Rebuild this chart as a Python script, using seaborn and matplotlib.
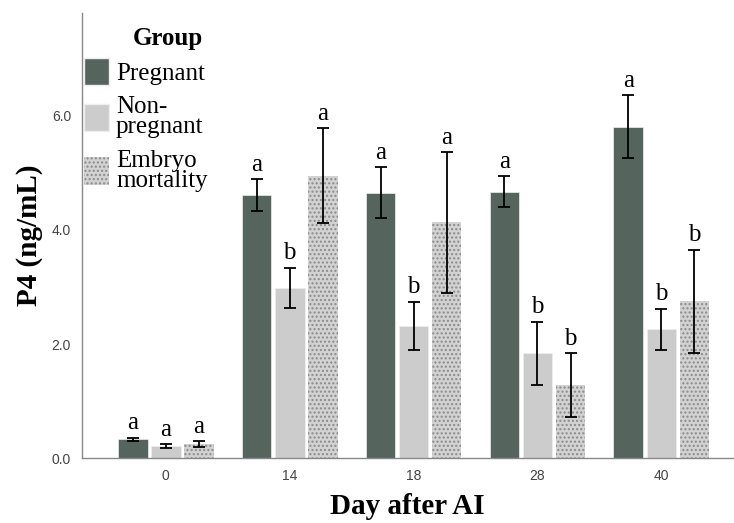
import numpy as np
import pandas as pd
import matplotlib
matplotlib.use("Agg")
import matplotlib.pyplot as plt
import seaborn as sns
from matplotlib.patches import Patch

sns.set_theme(style="white")
plt.rcParams["font.family"] = ["Liberation Serif", "DejaVu Serif"]
plt.rcParams["text.color"] = "black"
plt.rcParams["axes.labelcolor"] = "black"
plt.rcParams["hatch.linewidth"] = 1.0

SERIF = ["Liberation Serif", "DejaVu Serif"]

# data
days = ["0", "14", "18", "28", "40"]
groups = ["Pregnant", "Non-pregnant", "Embryo mortality"]
pregnant = [0.33, 4.61, 4.65, 4.67, 5.81]
nonpregnant = [0.21, 2.99, 2.32, 1.84, 2.26]
embryo = [0.25, 4.95, 4.13, 1.28, 2.75]
pregnant_err = [0.03, 0.28, 0.45, 0.27, 0.55]
nonpregnant_err = [0.03, 0.35, 0.42, 0.55, 0.36]
embryo_err = [0.05, 0.83, 1.23, 0.56, 0.90]
letters = {
    "Pregnant": ["a", "a", "a", "a", "a"],
    "Non-pregnant": ["a", "b", "b", "b", "b"],
    "Embryo mortality": ["a", "a", "a", "b", "b"],
}

df = pd.DataFrame({
    "Day": days * 3,
    "Group": [g for g in groups for _ in days],
    "P4": pregnant + nonpregnant + embryo,
    "err": pregnant_err + nonpregnant_err + embryo_err,
})

colors = {"Pregnant": "#56645e", "Non-pregnant": "#cccccc", "Embryo mortality": "#d2d2d2"}

fig = plt.figure(figsize=(7.34, 5.23), dpi=100)
ax = fig.add_axes([0.112, 0.124, 0.887, 0.851])

sns.barplot(data=df, x="Day", y="P4", hue="Group", order=days, hue_order=groups,
            palette=colors, errorbar=None, width=0.8, gap=0.1, saturation=1,
            ax=ax, legend=False)

# bars are drawn in hue order, one container per group
for cont, g in zip(ax.containers, groups):
    sub = df[df["Group"] == g].set_index("Day").loc[days]
    for bar, val, e, lt in zip(cont, sub["P4"], sub["err"], letters[g]):
        if g == "Embryo mortality":
            bar.set_hatch("....")
            bar.set_edgecolor("#8a8a8a")
            bar.set_linewidth(0)
        else:
            bar.set_edgecolor("#eeeeee")
            bar.set_linewidth(0.5)
        xc = bar.get_x() + bar.get_width() / 2
        ax.errorbar(xc, val, yerr=e, color="black", lw=1.3, capsize=4, capthick=1.3)
        ax.text(xc, val + e + 0.06, lt, ha="center", va="bottom", fontsize=18,
                family=SERIF)

ax.set_xlim(-0.674, 4.58)
ax.set_ylim(0, 7.8)
ax.set_yticks([0, 2, 4, 6])
ax.set_yticklabels(["0.0", "2.0", "4.0", "6.0"])
ax.tick_params(axis="both", length=0, labelsize=10, labelcolor="#444444", pad=8)
for lab in ax.get_xticklabels() + ax.get_yticklabels():
    lab.set_fontfamily(["Liberation Sans", "DejaVu Sans"])
for side in ["top", "right"]:
    ax.spines[side].set_visible(False)
for side in ["left", "bottom"]:
    ax.spines[side].set_color("#888888")
    ax.spines[side].set_linewidth(1.0)

ax.set_xlabel("Day after AI", fontsize=21, fontweight="bold", labelpad=7, family=SERIF)
ax.set_ylabel("P4 (ng/mL)", fontsize=21, fontweight="bold", labelpad=6, family=SERIF)

handles = [Patch(facecolor=colors["Pregnant"], edgecolor="#eeeeee"),
           Patch(facecolor=colors["Non-pregnant"], edgecolor="#eeeeee"),
           Patch(facecolor=colors["Embryo mortality"], edgecolor="#8a8a8a",
                 linewidth=0, hatch="....")]
leg = ax.legend(handles, ["Pregnant", "Non-\npregnant", "Embryo\nmortality"],
                loc="upper left", bbox_to_anchor=(0.002, 0.9),
                frameon=False, prop={"family": SERIF, "size": 18},
                handlelength=1.0, handleheight=1.3,
                handletextpad=0.3, labelspacing=0.45, borderaxespad=0.0,
                borderpad=0.0)
for t in leg.get_texts():
    t.set_linespacing(0.9)
fig.text(168 / 734, 1 - 38 / 523, "Group", ha="center", va="center",
         fontsize=18, fontweight="bold", family=SERIF)

fig.savefig("out.png", dpi=100)
